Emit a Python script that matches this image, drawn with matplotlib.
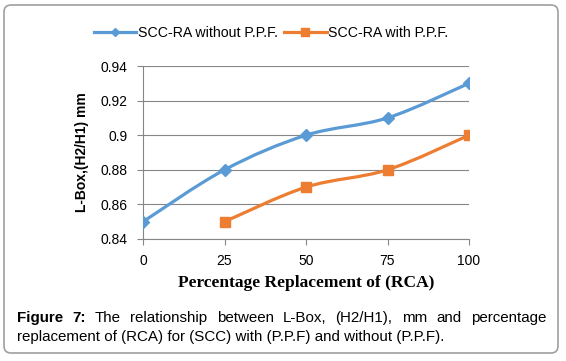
import matplotlib
matplotlib.use("Agg")
import matplotlib.pyplot as plt
import numpy as np
from matplotlib.patches import FancyBboxPatch
from matplotlib.transforms import IdentityTransform
from matplotlib.path import Path
from matplotlib.patches import PathPatch

# data
pct = [0, 25, 50, 75, 100]
without_ppf = [0.85, 0.88, 0.90, 0.91, 0.93]
pct_with = [25, 50, 75, 100]
with_ppf = [0.85, 0.87, 0.88, 0.90]
yticks = [0.84, 0.86, 0.88, 0.90, 0.92, 0.94]
ytick_labels = ["0.84", "0.86", "0.88", "0.9", "0.92", "0.94"]

caption1 = ["Figure", "7:", "The", "relationship", "between", "L-Box,", "(H2/H1),",
            "mm", "and", "percentage"]
caption2 = "replacement of (RCA) for (SCC) with (P.P.F) and without (P.P.F)."

blue = "#5b9bd5"
orange = "#ed7d31"
grid = "#868686"


def smooth_path(xs, ys):
    # Excel style smoothed line: cubic bezier through every point
    pts = np.column_stack([xs, ys]).astype(float)
    verts = [pts[0]]
    codes = [Path.MOVETO]
    n = len(pts)
    for i in range(n - 1):
        p0 = pts[i - 1] if i > 0 else pts[i]
        p1 = pts[i]
        p2 = pts[i + 1]
        p3 = pts[i + 2] if i + 2 < n else pts[i + 1]
        c1 = p1 + (p2 - p0) / 6
        c2 = p2 - (p3 - p1) / 6
        verts += [c1, c2, p2]
        codes += [Path.CURVE4] * 3
    return Path(verts, codes)


fig = plt.figure(figsize=(5.66, 3.61), dpi=100)
fig.patch.set_facecolor("white")

frame = FancyBboxPatch((4, 8), 554, 348, boxstyle="round,pad=0,rounding_size=7",
                       transform=IdentityTransform(), facecolor="none",
                       edgecolor="#a0a0a0", linewidth=1.2)
fig.patches.append(frame)

ax = fig.add_axes([143 / 566, 1 - 239 / 361, 326 / 566, 173 / 361])
tick_font = {"family": "Liberation Sans", "size": 10}

for xs, ys, col in [(pct, without_ppf, blue), (pct_with, with_ppf, orange)]:
    ax.add_patch(PathPatch(smooth_path(xs, ys), facecolor="none", edgecolor=col,
                           linewidth=2.3, capstyle="round", zorder=3))
ax.plot(pct, without_ppf, linestyle="none", marker="D", markersize=6.5,
        color=blue, zorder=4)
ax.plot(pct_with, with_ppf, linestyle="none", marker="s", markersize=7,
        color=orange, zorder=4)

ax.set_xlim(0, 100)
ax.set_ylim(0.84, 0.94)
ax.set_xticks(pct)
ax.set_xticklabels([str(p) for p in pct], fontdict=tick_font)
ax.set_yticks(yticks)
ax.set_yticklabels(ytick_labels, fontdict=tick_font)
ax.yaxis.grid(True, color=grid, linewidth=0.8)
ax.set_axisbelow(True)
for s in ["top", "right"]:
    ax.spines[s].set_visible(False)
for s in ["left", "bottom"]:
    ax.spines[s].set_color(grid)
    ax.spines[s].set_linewidth(0.8)
ax.tick_params(axis="both", direction="out", length=4.3, width=0.8,
               color=grid, pad=6.5)
ax.tick_params(axis="y", pad=7)

ax.set_ylabel("L-Box,(H2/H1) mm", fontfamily="Liberation Sans", fontweight="bold",
              fontsize=10, labelpad=8)
ax.set_xlabel("Percentage Replacement of (RCA)", fontfamily="Liberation Serif",
              fontweight="bold", fontsize=12.5, labelpad=5)

h1, = ax.plot([], [], color=blue, linewidth=2.3, marker="D", markersize=4)
h2, = ax.plot([], [], color=orange, linewidth=2.3, marker="s", markersize=6)
fig.legend([h1, h2], ["SCC-RA without P.P.F.", "SCC-RA with P.P.F."],
           loc="center", bbox_to_anchor=(271 / 566, 1 - 33 / 361), ncol=2,
           frameon=False, handlelength=3.0, handletextpad=0.1, columnspacing=0.45,
           prop={"family": "Liberation Sans", "size": 10.2})

# justified caption
renderer = fig.canvas.get_renderer()
cap_font = dict(family="Liberation Sans", size=10.9)
x_left, x_right = 17, 546
y1 = 361 - 322
words = []
total = 0
for i, w in enumerate(caption1):
    t = fig.text(0, y1 / 361, w, fontweight="bold" if i < 2 else "normal",
                 va="baseline", ha="left", **cap_font)
    wd = t.get_window_extent(renderer).width
    words.append((t, wd))
    total += wd
gap = (x_right - x_left - total) / (len(words) - 1)
x = x_left
for t, wd in words:
    t.set_x(x / 566)
    x += wd + gap
fig.text(x_left / 566, 1 - 341 / 361, caption2, va="baseline", ha="left", **cap_font)

fig.savefig("out.png", dpi=100)
